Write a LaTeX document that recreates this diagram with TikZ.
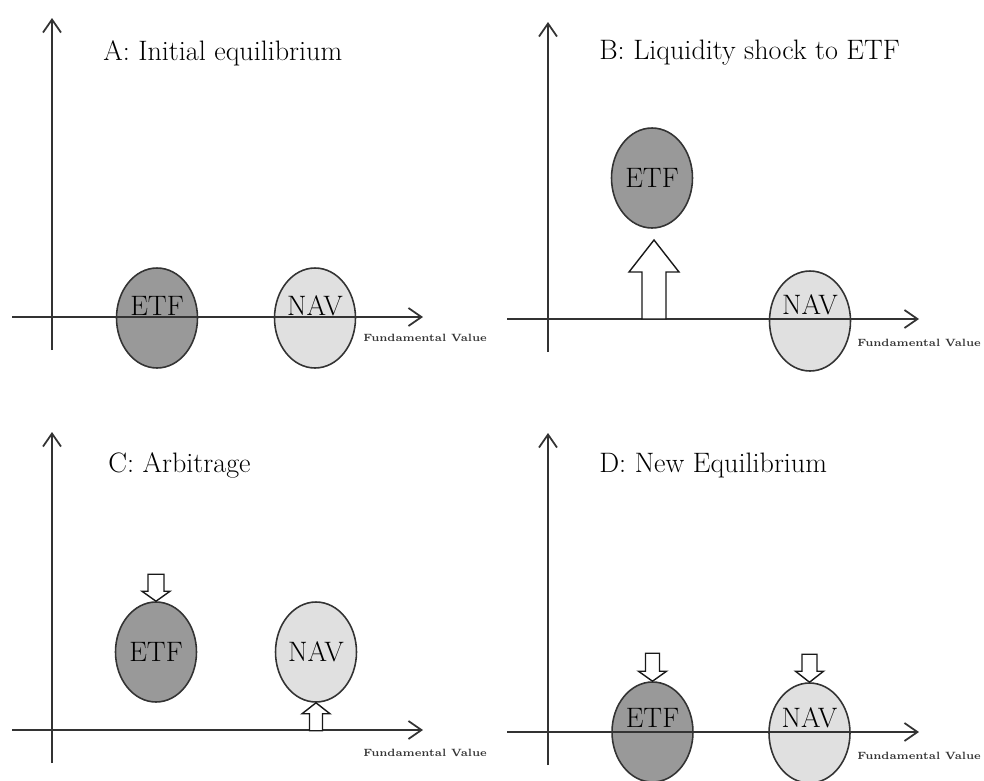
\documentclass[tikz,border=0pt]{standalone}
\usepackage{amsmath}
\usepackage{xcolor}
\usepackage{tikz}
\usetikzlibrary{shapes.geometric,arrows.meta}

\begin{document}
\begin{tikzpicture}[x=0.02cm,y=-0.02cm,
  axis/.style={line width=1pt,draw=black!80,-{Straight Barb[length=0.26cm,width=0.36cm]}},
  etf/.style={ellipse,draw=black!80,line width=0.9pt,fill=black!40,minimum width=1.62cm,minimum height=2cm,inner sep=0pt},
  nav/.style={etf,fill=black!12},
  shock/.style={draw=black!90,line width=0.8pt,fill=white,line join=miter},
  lbl/.style={font=\fontsize{16}{19}\selectfont},
  title/.style={lbl,anchor=base west,inner sep=0pt},
  fv/.style={anchor=west,inner sep=0pt,font=\fontsize{6}{7}\selectfont\bfseries,text=black!80}]
\useasboundingbox (0,0) rectangle (984,781);
%% A: initial equilibrium
\node[etf] (etfA) at (157,318) {};
\node[nav] (navA) at (315,318) {};
\node[lbl,anchor=base] (etfAtxt) at (157,315) {ETF};
\node[lbl,anchor=base] (navAtxt) at (315,315) {NAV};
\draw[axis] (12,317) -- (423,317);
\draw[axis] (52,350) -- (52,18);
\node[title] (titleA) at (103,60) {A: Initial equilibrium};
\node[fv] (fvA) at (363,338) {Fundamental Value};
%% B: liquidity shock
\node[etf,lbl] (etfB) at (652,178) {ETF};
\node[nav] (navB) at (810,321) {};
\node[lbl,anchor=base] (navBtxt) at (810,314) {NAV};
\draw[axis] (507,319) -- (919,319);
\draw[axis] (548,352) -- (548,22);
\draw[shock] (642,319) -- (642,272) -- (629,272) -- (654,240) -- (679,272) -- (666,272) -- (666,319) -- cycle;
\node[title] (titleB) at (599,59) {B: Liquidity shock to ETF};
\node[fv] (fvB) at (857,343) {Fundamental Value};
%% C: arbitrage
\node[etf,lbl] (etfC) at (156,652) {ETF};
\node[nav,lbl] (navC) at (316,652) {NAV};
\draw[axis] (12,730) -- (423,730);
\draw[axis] (52,763) -- (52,432);
\draw[shock] (etfC.north) -- ++(-14,-10) -- ++(6,0) -- ++(0,-17) -- ++(16,0) -- ++(0,17) -- ++(6,0) -- cycle;
\draw[shock] (navC.south) -- ++(14,11) -- ++(-7.5,0) -- ++(0,17) -- ++(-13,0) -- ++(0,-17) -- ++(-7.5,0) -- cycle;
\node[title] (titleC) at (108,472) {C: Arbitrage};
\node[fv] (fvC) at (363,753) {Fundamental Value};
%% D: new equilibrium
\node[etf] (etfD) at (652.5,732) {};
\node[nav] (navD) at (809.5,733) {};
\node[lbl,anchor=base] (etfDtxt) at (652.5,727) {ETF};
\node[lbl,anchor=base] (navDtxt) at (809.5,727) {NAV};
\draw[axis] (507,732) -- (919,732);
\draw[axis] (548,765) -- (548,433);
\draw[shock] (etfD.north) -- ++(-14,-10) -- ++(7,0) -- ++(0,-18) -- ++(14,0) -- ++(0,18) -- ++(7,0) -- cycle;
\draw[shock] (navD.north) -- ++(-14,-11) -- ++(6.5,0) -- ++(0,-17) -- ++(15,0) -- ++(0,17) -- ++(6.5,0) -- cycle;
\node[title] (titleD) at (599,472) {D: New Equilibrium};
\node[fv] (fvD) at (857,756) {Fundamental Value};
\end{tikzpicture}
\end{document}
